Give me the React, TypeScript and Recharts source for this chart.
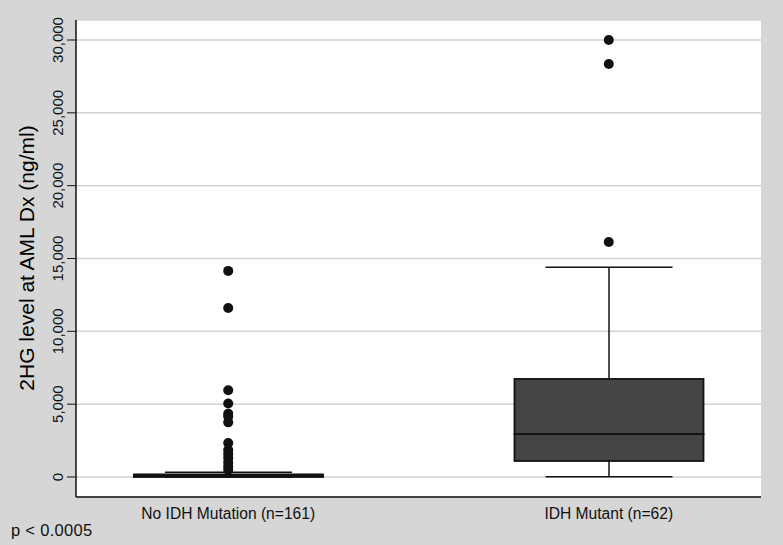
import React from "react";
import {
  ComposedChart,
  Bar,
  Scatter,
  XAxis,
  YAxis,
  CartesianGrid,
  Label,
} from "recharts";

// Categories and their positions on the numeric x axis
const groups = ["No IDH Mutation (n=161)", "IDH Mutant (n=62)"];
const groupPos = [2, 7];

// Box plot summary values (ng/ml)
const whiskerLow = [0, 20];
const q1 = [0, 1100];
const median = [60, 2950];
const q3 = [180, 6730];
const whiskerHigh = [330, 14400];

// Outliers
const outliersNoIdh = [
  14150, 11600, 5950, 5050, 4350, 4150, 3750, 2330, 1850, 1580, 1300, 1000, 720, 500,
];
const outliersIdh = [30000, 28350, 16130];

const yTicks = [0, 5000, 10000, 15000, 20000, 25000, 30000];

const FONT = "'Liberation Sans', Arial, sans-serif";

const boxData = groups.map((name, i) => ({
  name,
  x: groupPos[i],
  base: whiskerLow[i],
  lowWhisk: q1[i] - whiskerLow[i],
  lowBox: median[i] - q1[i],
  highBox: q3[i] - median[i],
  highWhisk: whiskerHigh[i] - q3[i],
}));

const outlierData = [
  ...outliersNoIdh.map((v) => ({ x: groupPos[0], y: v })),
  ...outliersIdh.map((v) => ({ x: groupPos[1], y: v })),
];

const fmt = (v: number) => v.toLocaleString("en-US");

const span = (p: any) => {
  const top = Math.min(p.y, p.y + p.height);
  const bottom = Math.max(p.y, p.y + p.height);
  return { top, bottom, cx: p.x + p.width / 2, half: p.width * 0.336 };
};

const LowWhisker = (p: any) => {
  const { top, bottom, cx, half } = span(p);
  return (
    <g stroke="#111" strokeWidth={1.5}>
      <line x1={cx} x2={cx} y1={top} y2={bottom} />
      <line x1={cx - half} x2={cx + half} y1={bottom} y2={bottom} />
    </g>
  );
};

const HighWhisker = (p: any) => {
  const { top, bottom, cx, half } = span(p);
  return (
    <g stroke="#111" strokeWidth={1.5}>
      <line x1={cx} x2={cx} y1={top} y2={bottom} />
      <line x1={cx - half} x2={cx + half} y1={top} y2={top} />
    </g>
  );
};

const BoxPart = (p: any) => {
  const { top, bottom } = span(p);
  return (
    <rect
      x={p.x}
      y={top}
      width={p.width}
      height={bottom - top}
      fill="#454545"
      stroke="#111"
      strokeWidth={1.8}
    />
  );
};

const Dot = (p: any) => <circle cx={p.cx} cy={p.cy} r={5} fill="#111" />;

const YTick = ({ y, payload }: any) => (
  <text
    x={63}
    y={y}
    transform={`rotate(-90 63 ${y})`}
    textAnchor="middle"
    fontSize={15}
    fontFamily={FONT}
    fill="#111"
  >
    {fmt(payload.value)}
  </text>
);

const XTick = ({ x, y, payload }: any) => (
  <text
    x={x}
    y={y + 14}
    textAnchor="middle"
    fontSize={15.6}
    fontFamily={FONT}
    fill="#111"
  >
    {groups[groupPos.indexOf(payload.value)]}
  </text>
);

export default function App() {
  return (
    <div
      style={{
        position: "absolute",
        left: 0,
        top: 0,
        width: 783,
        height: 545,
        background: "#d6d6d6",
      }}
    >
      <ComposedChart
        width={783}
        height={545}
        data={boxData}
        margin={{ top: 20, right: 22, bottom: 0, left: 0 }}
      >
        <CartesianGrid
          vertical={false}
          stroke="#d2d2d2"
          strokeWidth={1.5}
          fill="#ffffff"
        />
        <XAxis
          type="number"
          dataKey="x"
          domain={[0, 9]}
          ticks={groupPos}
          height={48}
          tickLine={false}
          axisLine={{ stroke: "#111", strokeWidth: 1.5 }}
          tick={<XTick />}
        />
        <YAxis
          type="number"
          domain={[-1373, 31373]}
          allowDataOverflow
          ticks={yTicks}
          width={76}
          tickSize={9}
          tickLine={{ stroke: "#111" }}
          axisLine={{ stroke: "#111", strokeWidth: 1.5 }}
          tick={<YTick />}
        >
          <Label
            content={() => (
              <text
                x={34}
                y={258}
                transform="rotate(-90 34 258)"
                textAnchor="middle"
                fontSize={21}
                fontFamily={FONT}
                fill="#000"
              >
                2HG level at AML Dx (ng/ml)
              </text>
            )}
          />
        </YAxis>
        <Bar dataKey="base" stackId="box" barSize={189} fill="none" shape={() => null} isAnimationActive={false} />
        <Bar dataKey="lowWhisk" stackId="box" barSize={189} shape={<LowWhisker />} isAnimationActive={false} />
        <Bar dataKey="lowBox" stackId="box" barSize={189} shape={<BoxPart />} isAnimationActive={false} />
        <Bar dataKey="highBox" stackId="box" barSize={189} shape={<BoxPart />} isAnimationActive={false} />
        <Bar dataKey="highWhisk" stackId="box" barSize={189} shape={<HighWhisker />} isAnimationActive={false} />
        <Scatter data={outlierData} dataKey="y" shape={<Dot />} isAnimationActive={false} />
      </ComposedChart>
      <div
        style={{
          position: "absolute",
          left: 11,
          top: 521,
          fontSize: 16.5,
          letterSpacing: 0.3,
          fontFamily: FONT,
          color: "#111",
        }}
      >
        p &lt; 0.0005
      </div>
    </div>
  );
}
